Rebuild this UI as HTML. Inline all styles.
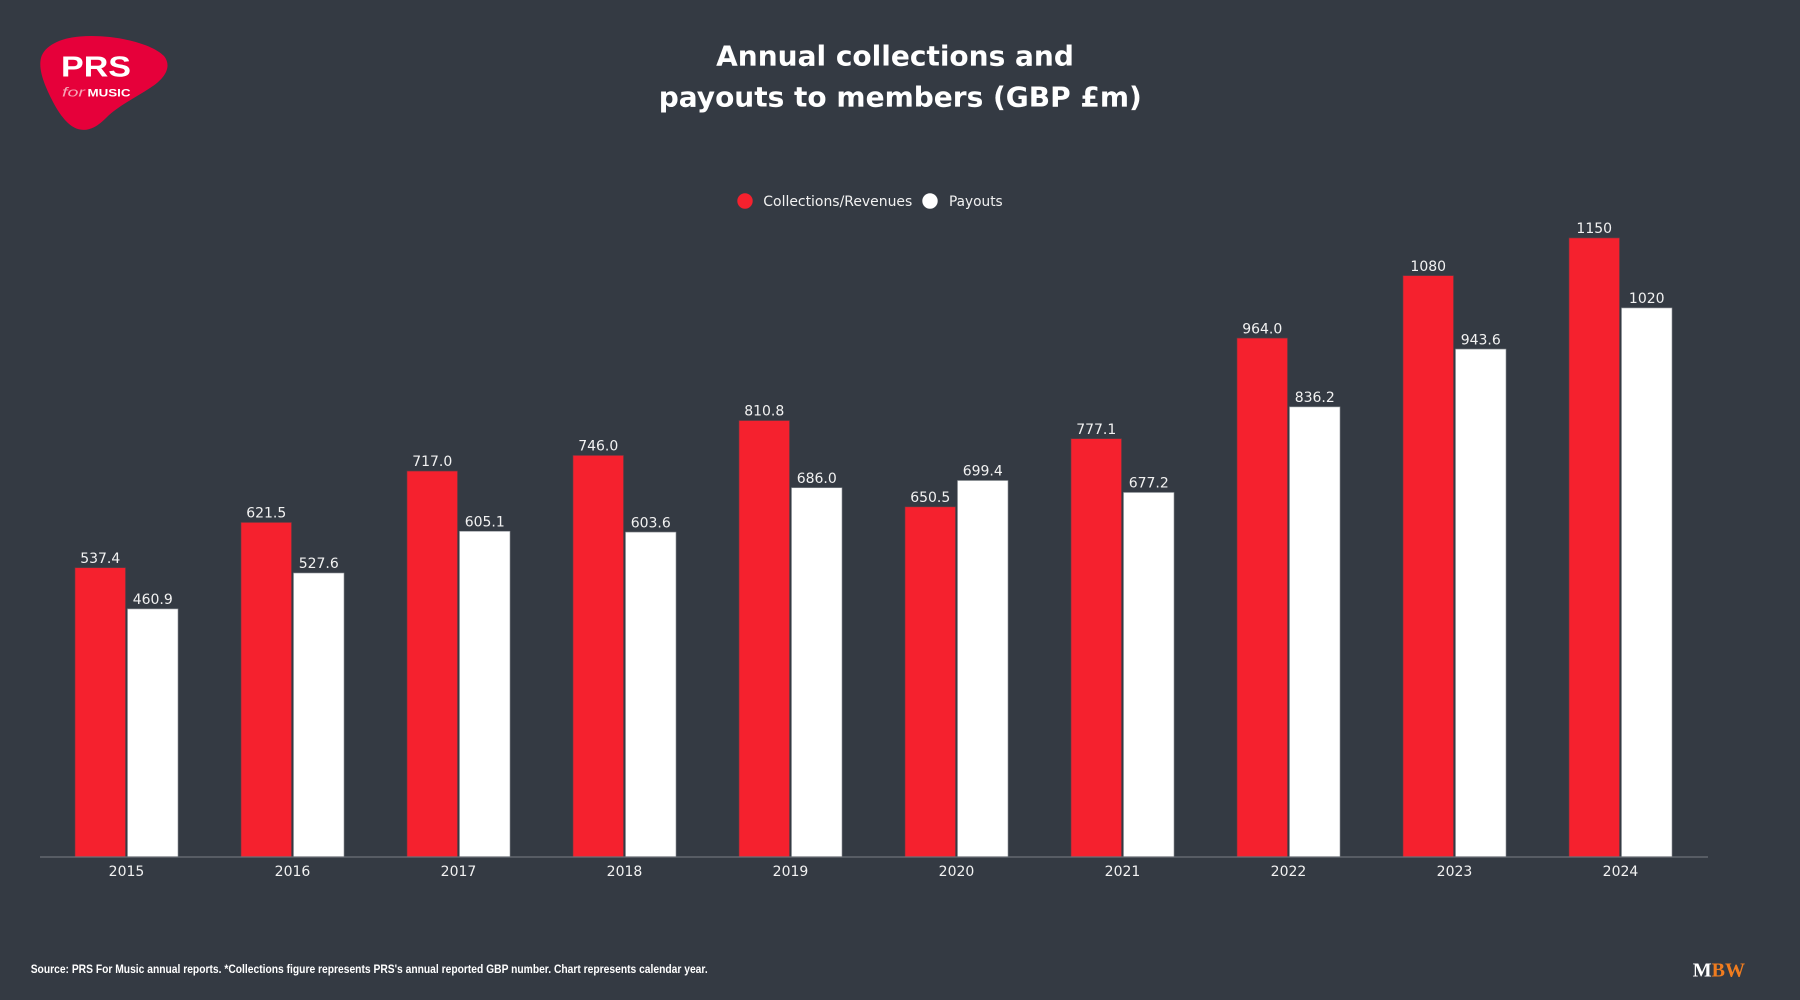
<!DOCTYPE html>
<html>
<head>
<meta charset="utf-8">
<style>
  html, body { margin: 0; padding: 0; background: #343a43; }
  body { width: 1800px; height: 1000px; overflow: hidden; }
  svg { display: block; }
</style>
</head>
<body>
<svg width="1800" height="1000" viewBox="0 0 1800 1000" xmlns="http://www.w3.org/2000/svg">
  <rect x="0" y="0" width="1800" height="1000" fill="#343a43"/>

  <!-- PRS logo -->
  <path d="M 80 36.5 C 110 34, 150 42, 164 56 C 172 66, 166 78, 150 88 C 135 98, 118 106, 106 118 C 96 128, 88 131, 80 129.5 C 70 128, 60 116, 52 100 C 45 86, 38 70, 41 58 C 44 46, 60 38, 80 36.5 Z" fill="#e6003a"/>
  <text x="61" y="76.7" font-family="Liberation Sans, sans-serif" font-weight="bold" font-size="29" fill="#ffffff" textLength="70" lengthAdjust="spacingAndGlyphs">PRS</text>
  <text x="62" y="96.7" font-family="Liberation Sans, sans-serif" font-style="italic" font-size="13" fill="#f6a3b4" textLength="23" lengthAdjust="spacingAndGlyphs">for</text>
  <text x="87.5" y="96.7" font-family="Liberation Sans, sans-serif" font-weight="bold" font-size="11" fill="#ffffff" textLength="43" lengthAdjust="spacingAndGlyphs">MUSIC</text>

  <!-- Title -->
  <g font-family="DejaVu Sans, Verdana, sans-serif" font-weight="bold" font-size="28" fill="#ffffff" text-anchor="middle">
    <text x="895" y="65.7">Annual collections and</text>
    <text x="900.3" y="106.7">payouts to members (GBP £m)</text>
  </g>

  <!-- Legend -->
  <circle cx="745" cy="201" r="7.7" fill="#f5212e"/>
  <text x="763.3" y="206" font-family="DejaVu Sans, Verdana, sans-serif" font-size="14" fill="#f2f2f2" textLength="149" lengthAdjust="spacingAndGlyphs">Collections/Revenues</text>
  <circle cx="930" cy="201" r="7.7" fill="#ffffff"/>
  <text x="949" y="206" font-family="DejaVu Sans, Verdana, sans-serif" font-size="14" fill="#f2f2f2" textLength="53.7" lengthAdjust="spacingAndGlyphs">Payouts</text>

  <!-- Red bars -->
  <g fill="#f5212e" stroke="#6a3a42" stroke-width="0.6">
    <rect x="75" y="567.72" width="50.5" height="289.28"/>
    <rect x="241" y="522.45" width="50.5" height="334.55"/>
    <rect x="407" y="471.04" width="50.5" height="385.96"/>
    <rect x="573" y="455.43" width="50.5" height="401.57"/>
    <rect x="739" y="420.55" width="50.5" height="436.45"/>
    <rect x="905" y="506.84" width="50.5" height="350.16"/>
    <rect x="1071" y="438.69" width="50.5" height="418.31"/>
    <rect x="1237" y="338.08" width="50.5" height="518.92"/>
    <rect x="1403" y="275.64" width="50.5" height="581.36"/>
    <rect x="1569" y="237.95" width="50.5" height="619.05"/>
  </g>

  <!-- White bars -->
  <g fill="#ffffff" stroke="#8a8e94" stroke-width="0.6">
    <rect x="127.5" y="608.90" width="50.5" height="248.10"/>
    <rect x="293.5" y="572.99" width="50.5" height="284.01"/>
    <rect x="459.5" y="531.27" width="50.5" height="325.73"/>
    <rect x="625.5" y="532.08" width="50.5" height="324.92"/>
    <rect x="791.5" y="487.73" width="50.5" height="369.27"/>
    <rect x="957.5" y="480.51" width="50.5" height="376.49"/>
    <rect x="1123.5" y="492.46" width="50.5" height="364.54"/>
    <rect x="1289.5" y="406.87" width="50.5" height="450.13"/>
    <rect x="1455.5" y="349.06" width="50.5" height="507.94"/>
    <rect x="1621.5" y="307.93" width="50.5" height="549.07"/>
  </g>

  <!-- Value labels -->
  <g font-family="DejaVu Sans, Verdana, sans-serif" font-size="14" fill="#f2f2f2" text-anchor="middle">
    <text x="100.25" y="562.9">537.4</text>
    <text x="266.25" y="517.6">621.5</text>
    <text x="432.25" y="466.2">717.0</text>
    <text x="598.25" y="450.6">746.0</text>
    <text x="764.25" y="415.7">810.8</text>
    <text x="930.25" y="502.0">650.5</text>
    <text x="1096.25" y="433.9">777.1</text>
    <text x="1262.25" y="333.3">964.0</text>
    <text x="1428.25" y="270.8">1080</text>
    <text x="1594.25" y="233.1">1150</text>

    <text x="152.75" y="604.1">460.9</text>
    <text x="318.75" y="568.2">527.6</text>
    <text x="484.75" y="526.5">605.1</text>
    <text x="650.75" y="527.3">603.6</text>
    <text x="816.75" y="482.9">686.0</text>
    <text x="982.75" y="475.7">699.4</text>
    <text x="1148.75" y="487.7">677.2</text>
    <text x="1314.75" y="402.1">836.2</text>
    <text x="1480.75" y="344.3">943.6</text>
    <text x="1646.75" y="303.1">1020</text>
  </g>

  <!-- Axis line -->
  <line x1="40" y1="857" x2="1708" y2="857" stroke="#6c7077" stroke-width="1.2"/>

  <!-- Year labels -->
  <g font-family="DejaVu Sans, Verdana, sans-serif" font-size="14" fill="#f2f2f2" text-anchor="middle">
    <text x="126.5" y="876">2015</text>
    <text x="292.5" y="876">2016</text>
    <text x="458.5" y="876">2017</text>
    <text x="624.5" y="876">2018</text>
    <text x="790.5" y="876">2019</text>
    <text x="956.5" y="876">2020</text>
    <text x="1122.5" y="876">2021</text>
    <text x="1288.5" y="876">2022</text>
    <text x="1454.5" y="876">2023</text>
    <text x="1620.5" y="876">2024</text>
  </g>

  <!-- Footer -->
  <text x="30.7" y="973" font-family="Liberation Sans, sans-serif" font-weight="bold" font-size="11.5" fill="#ffffff" textLength="677" lengthAdjust="spacingAndGlyphs">Source: PRS For Music annual reports. *Collections figure represents PRS's annual reported GBP number. Chart represents calendar year.</text>

  <!-- MBW logo -->
  <text x="1692.7" y="976.7" font-family="Liberation Serif, serif" font-weight="bold" font-size="20" textLength="52.3" lengthAdjust="spacingAndGlyphs"><tspan fill="#ffffff">M</tspan><tspan fill="#f07c1f">BW</tspan></text>
</svg>
</body>
</html>
